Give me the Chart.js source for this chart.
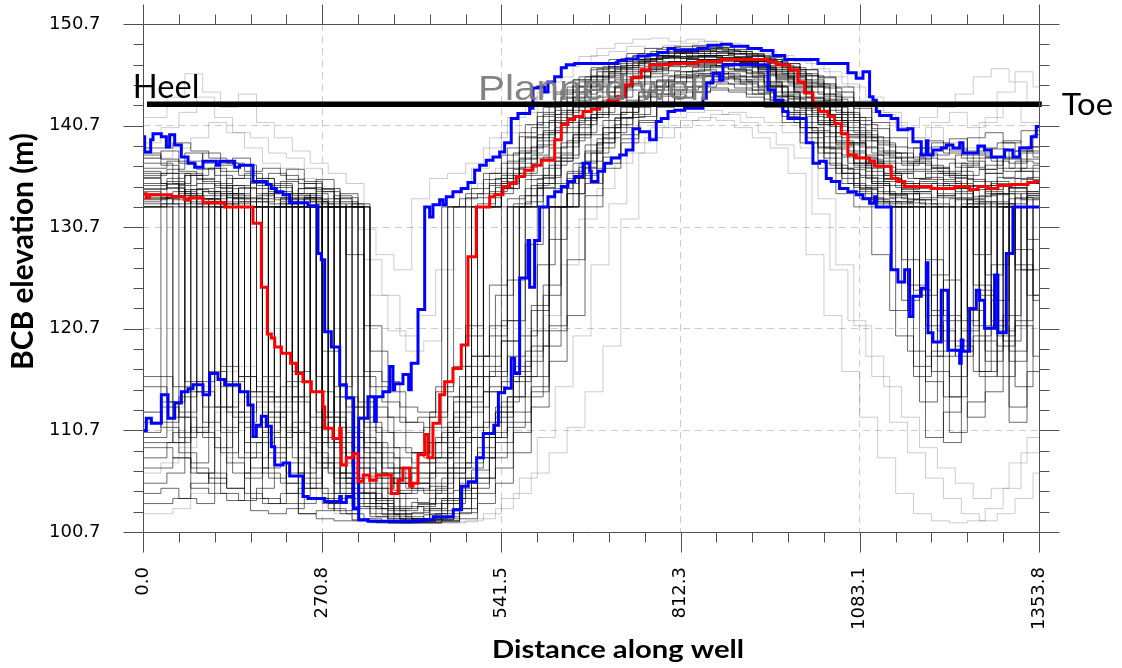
<!DOCTYPE html>
<html><head><meta charset="utf-8">
<script src="https://cdn.jsdelivr.net/npm/chart.js@4/dist/chart.umd.min.js"></script>
<style>html,body{margin:0;padding:0;background:#fff}#wrap{width:1122px;height:668px}</style>
</head><body><div id="wrap"><canvas id="c" width="1122" height="668"></canvas></div>
<script>
// ---------- tick labels ----------
const xTickValues = [0, 270.76, 541.52, 812.28, 1083.04, 1353.8];
const xTickLabels = ["0.0", "270.8", "541.5", "812.3", "1083.1", "1353.8"];
const yTickValues = [100.7, 110.7, 120.7, 130.7, 140.7, 150.7];
const yTickLabels = ["100.7", "110.7", "120.7", "130.7", "140.7", "150.7"];

// ---------- planned well ----------
const wellX = [6, 1358];
const wellY = [142.8, 142.8];

// ---------- median (red), step breakpoints ----------
const redX = [0,5,10,43,63,70.5,90.6,123.4,166.2,178.8,187.8,193.9,199,209,223,231.6,241.7,254.3,272,274.5,287,297.2,299.6,307.2,317.3,324.8,332.8,342.5,352.5,375.2,385.3,392.8,402.9,407.9,415.5,425.6,430.6,438.1,448.2,455.8,468.3,480.9,491,503.6,523.8,531.3,543.9,554,564,576.7,589.2,601.8,622,632,642,652.2,664.8,677.3,689.9,702.5,717.6,727.7,737.7,752.8,765.5,798.2,838.5,873.7,944.3,956.8,977,989.6,999.7,1012.2,1022.3,1034.9,1045,1055,1065.1,1077.6,1097.8,1105.4,1130.5,1140.6,1150.8,1191,1226.3,1249,1261.5,1276.6,1291.7,1311.9,1337.1,1347.2,1353.8];
const redY = [134.0,133.6,133.9,133.7,133.4,133.6,133.1,132.7,131.1,124.8,120.2,119.8,118.9,118.3,117.3,116.3,115.5,114.5,113.0,110.9,109.9,110.9,107.3,108.0,108.4,105.7,106.3,105.8,106.3,104.5,105.8,107.0,105.2,105.5,108.3,110.3,108.0,111.4,114.2,115.5,116.8,119.1,127.8,132.7,133.7,133.9,134.7,135.0,135.7,136.3,136.8,137.3,139.3,140.8,141.3,141.6,142.1,142.3,142.8,143.2,143.6,144.7,145.4,146.2,146.7,146.8,147.0,147.2,147.0,146.7,146.2,145.0,143.9,142.6,142.1,141.6,140.9,139.9,137.8,137.5,137.2,136.7,135.5,135.2,134.7,134.5,134.7,134.4,134.7,134.5,134.8,134.9,135.1,135.2,135.2];

// ---------- upper percentile (blue) ----------
const blueUpperX = [0,2.5,11.6,15.1,27.7,35.3,40.3,47.9,57.9,68,78.1,90.6,110.8,115.8,138.5,146.1,166.2,186.3,193.9,201.4,211.5,221.6,249.3,264.4,269.4,274.5,284.5,297.2,307.2,318.3,325.9,339.9,350,352.5,362.6,372.7,377.7,380.2,392.8,401.4,405.3,415.5,425.6,433.1,438.1,448.2,453.2,458.2,468.3,480.9,491,501.1,508.7,518.7,528.8,538.9,546.4,556.4,566.5,584.2,589.2,596.8,606.9,611.9,622,632,639.6,652.2,717.6,730.2,747.8,763,778,793.2,803.3,838.5,853.6,873.7,888.8,914,934.2,951.8,969.5,1019.8,1065.1,1077.6,1087.8,1097.8,1102.9,1107.9,1113,1130.5,1140.6,1155.7,1163.3,1175.9,1183.5,1186,1193.5,1206.1,1213.7,1223.8,1233.9,1238.9,1261.5,1271.6,1281.7,1301.8,1314.4,1324.5,1342.1,1349.7,1353.8];
const blueUpperY = [139.6,138.1,139.3,139.9,139.6,138.6,139.8,138.8,137.6,137.0,136.6,137.2,136.8,137.2,136.6,136.8,135.2,134.9,134.5,134.2,133.9,133.1,132.8,128.1,127.5,120.4,118.9,115.2,113.9,103.0,111.9,114.0,111.6,114.0,114.5,117.0,114.7,115.3,116.2,114.7,117.3,122.6,132.7,131.7,132.9,133.4,132.9,133.7,134.2,134.5,135.1,136.3,136.8,137.3,137.6,138.1,139.0,141.4,141.9,142.4,144.4,144.5,144.0,145.0,145.5,146.4,146.7,146.8,147.1,147.25,147.55,147.65,147.9,148.3,148.15,148.3,148.6,148.7,148.5,148.3,148.1,147.6,147.2,146.8,145.9,145.35,146.0,143.55,143.2,142.1,141.7,141.4,140.3,140.4,139.1,137.8,139.2,137.8,138.3,138.5,138.8,138.5,139.0,138.0,138.7,138.3,137.6,138.3,137.6,138.5,139.6,140.6,140.6];

// ---------- lower percentile (blue) ----------
const blueLowerX = [0,5,12.6,27.7,37.8,47.9,57.9,68,75.5,90.6,100.7,113.3,123.4,146.1,158.6,166.2,171.2,178.8,186.3,193.9,199,211.5,221.6,241.7,249.3,274.5,297.2,299.6,307.2,318.3,325.9,339.9,420.5,438.6,468.8,481.4,491.5,504.1,514.2,530,537,546.4,556.4,561.5,569.1,581.6,584.2,591.7,599.3,611.9,622,632,642,652.2,664.8,674.9,677.3,687.4,697.5,707.5,720.2,730.2,740.3,750.4,765.5,775.5,783.1,793.2,803.3,818.4,846.1,851.1,861.2,871.3,876.3,944.3,954.4,966.9,974.5,1002.1,1012.2,1022.3,1032.4,1039.9,1052.5,1065.1,1077.6,1087.8,1097.8,1105.4,1107.9,1130.5,1140.6,1150.8,1158.3,1163.3,1175.9,1183.5,1186,1193.5,1206.1,1216.2,1233.9,1236.3,1238.9,1249,1259.1,1264.1,1271.6,1286.7,1291.7,1304.4,1314.4,1353.8];
const blueLowerY = [110.7,111.9,111.4,114.2,111.9,113.4,114.5,114.8,115.2,114.2,116.3,115.7,115.2,114.5,113.2,110.1,111.2,112.1,111.1,109.1,107.3,107.5,106.2,104.2,104.0,103.7,104.2,103.6,104.2,103.0,101.9,101.75,101.9,102.2,102.9,105.2,105.65,108.0,110.4,111.2,114.4,114.85,117.8,116.3,125.7,129.4,124.8,129.4,132.7,133.7,134.2,134.7,135.2,135.7,137.0,136.2,135.2,136.2,137.0,137.5,137.8,138.3,140.4,140.1,139.3,141.1,141.4,142.1,142.2,142.4,143.4,144.9,145.85,145.2,146.7,144.2,143.2,142.1,141.4,139.0,137.0,137.2,135.5,135.2,134.5,134.2,133.9,133.5,133.05,133.7,132.7,126.5,125.3,126.5,121.9,123.9,124.7,127.2,120.3,119.4,124.5,118.6,117.3,119.6,118.5,122.7,124.5,123.5,120.75,126.0,120.3,128.1,132.7,132.7];

// ---------- ensemble realizations (gray): three staggered cell grids along the well ----------
const distanceGridA = [0,27.1,54.2,81.2,108.3,135.4,162.5,189.5,216.6,243.7,270.8,297.8,324.9,352,379.1,406.1,433.2,460.3,487.4,514.4,541.5,568.6,595.7,622.7,649.8,676.9,704,731,758.1,785.2,812.3,839.3,866.4,893.5,920.6,947.6,974.7,1001.8,1028.9,1055.9,1083.0,1110.1,1137.2,1164.2,1191.3,1218.4,1245.5,1272.5,1299.6,1326.7,1353.8];
const distanceGridB = [0,36.1,63.2,90.2,117.3,144.4,171.5,198.5,225.6,252.7,279.8,306.8,333.9,361.0,388.1,415.1,442.2,469.3,496.4,523.4,550.5,577.6,604.7,631.7,658.8,685.9,713.0,740.1,767.1,794.2,821.3,848.4,875.4,902.5,929.6,956.7,983.7,1010.8,1037.9,1065.0,1092.0,1119.1,1146.2,1173.3,1200.3,1227.4,1254.5,1281.6,1308.6,1335.7,1353.8];
const distanceGridC = [0,45.1,72.2,99.3,126.4,153.4,180.5,207.6,234.7,261.7,288.8,315.9,343.0,370.0,397.1,424.2,451.3,478.3,505.4,532.5,559.6,586.6,613.7,640.8,667.9,694.9,722.0,749.1,776.2,803.2,830.3,857.4,884.5,911.6,938.6,965.7,992.8,1019.9,1046.9,1074.0,1101.1,1128.2,1155.2,1182.3,1209.4,1236.5,1263.5,1290.6,1317.7,1344.8,1353.8];

const dark01 = [134.0,133.8,133.6,133.5,133.2,132.7,132.7,132.7,132.7,132.7,118.5,116.0,112.0,108.5,106.0,105.5,104.8,106.5,114.0,132.7,134.5,136.0,137.5,140.5,142.5,143.5,145.0,146.0,146.5,146.8,147.0,147.2,147.1,147.0,146.6,146.0,145.0,143.5,141.5,139.5,137.5,136.6,135.2,134.7,134.6,134.5,134.7,134.4,134.8,135.0];
const dark02 = [136.5,137.2,138.0,137.0,136.2,136.8,135.5,134.6,134.0,133.2,132.7,128.0,121.0,115.5,113.0,112.5,114.5,117.0,132.7,134.8,137.2,139.5,141.8,143.5,145.0,146.0,147.0,147.6,148.0,148.2,148.0,147.6,147.4,147.0,146.5,146.0,145.2,144.5,142.5,140.5,138.5,137.5,136.8,137.5,136.2,137.8,138.0,137.2,136.5,138.6];
const dark03 = [133.5,112.0,110.5,133.2,134.0,108.5,107.0,133.0,103.5,104.0,102.8,103.0,102.2,101.8,101.7,101.8,102.0,104.5,108.0,112.5,116.0,123.0,132.7,136.0,138.2,140.5,142.0,143.5,144.5,145.0,145.6,145.8,146.0,145.5,144.8,143.8,142.8,141.0,139.2,137.0,135.0,133.8,132.7,118.0,121.5,132.7,124.0,120.5,132.7,133.5];
const dark04 = [135.5,135.0,134.2,114.5,113.0,134.8,135.0,112.0,110.5,133.6,108.0,107.5,106.0,104.0,102.5,102.0,103.0,108.0,112.5,118.0,132.7,133.8,135.5,138.0,140.5,142.5,144.0,145.5,146.2,146.8,147.3,147.5,147.3,146.8,146.0,144.5,143.0,140.5,138.5,136.0,134.5,133.5,133.2,134.0,122.5,116.0,133.5,134.2,119.5,132.7];
const dark05 = [108.0,109.5,135.8,136.5,111.0,112.5,133.5,134.0,132.7,110.0,109.0,106.0,104.5,103.0,102.0,101.8,101.9,102.5,105.0,110.5,114.0,118.5,125.0,132.7,136.0,139.0,141.5,143.0,144.5,145.5,146.0,146.6,146.8,146.5,145.8,145.0,144.0,142.0,140.0,138.0,136.5,135.5,135.0,134.5,133.8,135.5,125.0,121.5,134.6,135.2];
const dark06 = [137.0,136.0,106.5,105.5,135.5,136.0,114.0,115.0,134.5,112.5,114.0,113.0,109.5,107.0,105.0,104.5,106.0,110.0,116.0,124.0,133.0,135.8,138.5,141.0,143.0,144.5,145.8,146.8,147.5,148.0,148.5,148.3,148.0,147.7,147.2,146.5,145.8,144.8,143.5,141.5,139.5,138.0,137.0,136.2,135.8,136.8,137.5,136.5,137.2,137.0];
const dark07 = [112.5,111.0,110.0,134.5,133.8,132.7,104.0,103.5,133.0,132.7,107.0,104.5,103.5,102.2,101.8,102.0,103.5,106.5,110.0,114.5,119.5,132.7,134.5,137.2,139.5,141.5,143.0,144.2,145.0,145.6,146.0,146.2,145.8,145.2,144.5,143.5,142.0,140.0,137.5,135.5,134.0,133.0,132.7,124.5,126.0,132.7,133.0,117.5,122.0,132.7];
const dark08 = [134.8,135.5,136.0,135.2,134.5,108.0,109.5,110.0,111.5,108.5,106.5,132.7,111.0,108.0,106.5,107.5,108.0,112.0,132.7,135.0,136.5,138.5,140.0,142.0,143.8,145.0,146.2,147.0,147.6,147.8,147.5,147.2,146.8,146.4,145.6,144.6,143.5,142.2,140.8,139.0,137.2,136.0,134.5,135.0,134.0,119.0,116.5,127.0,133.5,134.2];
const dark09 = [116.0,115.0,114.5,116.5,115.5,114.0,112.5,111.0,109.0,107.5,105.5,104.0,103.0,102.0,101.7,101.7,101.8,103.0,106.0,108.5,111.5,114.5,132.7,134.0,136.5,139.5,141.5,142.8,143.8,144.5,145.0,145.2,145.5,145.0,144.0,142.5,140.5,138.5,136.5,134.8,133.4,132.7,125.0,121.0,119.5,132.7,133.0,134.0,127.0,123.5];
const dark10 = [133.2,133.5,134.0,133.8,133.0,132.7,132.7,132.7,105.5,106.0,132.7,105.0,104.0,103.5,104.5,105.5,107.5,111.5,120.0,132.7,135.5,137.5,139.2,141.8,144.0,145.5,146.5,147.2,147.6,147.9,148.0,147.8,147.6,147.4,147.0,146.2,145.5,144.5,143.0,141.0,139.5,138.2,137.5,138.5,139.0,138.2,139.5,140.0,139.0,140.2];
const dark11 = [110.0,132.7,133.5,134.2,110.5,111.5,113.5,132.7,133.5,134.0,110.0,108.0,105.5,104.0,103.0,103.2,105.5,109.5,113.0,116.5,121.5,129.0,132.7,135.0,137.0,139.0,140.5,141.8,143.0,143.8,144.5,145.0,145.3,145.0,144.4,143.6,142.5,141.0,139.0,137.0,135.5,134.0,133.5,133.0,132.7,118.5,120.0,132.7,133.0,133.8];
const dark12 = [138.5,139.0,138.2,137.5,137.0,136.2,136.5,135.8,135.0,134.2,133.5,132.7,115.0,112.0,110.5,111.0,132.7,133.5,134.0,135.5,138.0,140.5,142.8,144.5,145.5,146.5,147.3,147.8,148.2,148.5,148.6,148.4,148.2,147.8,147.4,146.8,146.2,145.5,144.5,143.0,141.0,139.5,138.5,139.2,138.0,137.5,138.5,139.0,138.2,139.8];
const dark13 = [104.5,105.0,104.0,103.5,132.7,133.5,102.8,102.5,103.0,132.7,103.5,102.5,101.8,101.6,101.6,101.7,102.0,103.5,107.5,111.5,115.5,120.0,127.0,132.7,135.5,138.0,140.0,141.5,142.8,143.6,144.2,144.5,144.8,144.4,143.8,142.8,141.5,139.5,137.0,135.0,133.5,132.7,120.0,117.0,132.7,133.5,112.0,114.5,132.7,132.7];
const dark14 = [135.0,134.5,133.8,133.5,134.0,116.0,114.5,113.5,114.0,132.7,112.0,110.0,108.0,106.5,107.0,108.5,110.0,114.0,118.0,121.0,132.7,134.5,136.5,139.0,141.2,143.0,144.5,145.5,146.3,146.9,147.2,147.4,147.2,146.9,146.3,145.5,144.5,143.0,141.2,139.0,137.0,135.5,134.0,133.6,134.8,134.2,133.7,135.0,134.5,134.0];
const dark15 = [109.0,108.0,107.0,106.0,105.0,104.5,104.0,103.5,102.5,102.0,101.8,101.8,101.7,101.6,101.6,101.6,101.7,102.0,103.5,105.5,108.5,113.0,117.5,122.0,132.7,136.5,139.0,141.0,142.5,143.5,144.0,144.2,144.0,143.5,142.5,141.0,139.0,136.5,134.0,132.7,128.0,122.5,132.7,127.5,122.0,120.5,124.5,133.0,128.5,124.0];
const dark16 = [132.7,133.0,132.7,132.7,135.0,135.5,133.5,133.0,132.7,133.5,134.5,114.0,107.0,105.0,106.0,108.5,112.5,132.7,134.0,136.0,137.8,140.0,142.0,144.0,145.2,146.2,146.8,147.2,147.3,147.0,146.7,146.5,146.8,147.0,147.1,146.8,146.2,145.2,143.8,142.0,140.2,138.8,136.0,135.5,136.5,135.8,134.8,136.0,135.5,136.5];
const dark17 = [132.7,133.8,115.5,113.0,132.7,133.2,134.5,109.0,132.7,111.0,132.7,110.5,108.5,106.5,104.0,103.5,105.0,107.5,111.0,115.0,118.0,132.7,135.0,137.5,140.0,142.0,143.5,144.8,145.8,146.5,147.0,147.2,147.0,146.7,146.0,145.2,144.2,142.8,141.0,138.8,136.8,135.2,134.2,113.5,133.8,134.5,128.0,133.2,111.5,133.6];
const dark18 = [136.0,135.0,135.8,136.5,107.5,106.0,134.0,135.2,106.5,133.0,104.5,132.7,104.0,102.8,102.5,103.0,104.0,106.0,109.0,112.0,132.7,134.8,136.8,139.2,141.5,143.2,144.8,146.0,146.9,147.4,147.8,148.0,147.7,147.2,146.6,145.8,144.9,143.8,142.0,140.0,138.0,136.2,135.5,136.0,135.2,121.5,134.8,135.6,136.2,135.0];
const dark19 = [111.5,113.5,112.0,110.5,109.0,133.0,132.7,108.0,106.5,105.5,133.5,106.5,105.0,103.5,102.2,102.0,102.5,104.0,107.0,110.0,113.5,116.0,132.7,134.5,137.0,139.8,141.8,143.2,144.2,145.0,145.5,145.8,145.5,145.0,144.2,143.2,141.8,140.0,138.0,136.0,134.4,133.2,132.7,133.4,116.5,114.0,132.7,118.5,132.7,126.5];
const dark20 = [134.5,135.2,134.0,133.5,133.0,134.5,135.5,134.8,133.8,133.2,132.7,132.7,109.0,105.5,104.5,106.0,109.5,113.5,132.7,134.2,136.0,138.0,140.2,142.8,144.5,145.5,146.3,146.9,147.3,147.5,147.6,147.5,147.3,147.0,146.4,145.6,144.6,143.2,141.5,139.8,137.8,136.0,134.8,135.4,136.0,135.0,134.4,135.2,134.2,135.6];
const dark21 = [132.7,109.5,111.0,132.7,133.6,114.5,116.0,133.2,134.0,114.5,112.5,109.0,106.5,104.5,103.2,102.8,103.5,106.0,110.0,113.0,116.5,120.5,132.7,135.5,138.0,140.5,142.5,144.0,145.2,146.0,146.4,146.6,146.3,145.8,145.0,144.0,142.6,140.8,138.8,136.8,135.0,134.0,133.4,132.7,109.5,133.0,133.8,132.7,115.0,132.7];
const dark22 = [137.5,138.2,137.0,136.4,135.8,112.0,110.0,136.0,135.4,134.6,109.5,133.2,110.0,107.5,105.5,105.0,106.5,109.0,115.0,132.7,135.0,137.0,139.5,141.5,143.5,144.8,145.8,146.6,147.2,147.6,147.9,148.1,147.9,147.5,147.0,146.2,145.4,144.0,142.2,140.2,138.6,137.0,136.4,137.2,136.5,137.0,122.5,136.8,137.5,136.2];
const dark23 = [105.5,106.5,133.5,134.2,104.5,103.8,105.0,132.7,133.4,104.0,103.0,102.5,102.0,101.7,101.6,101.7,101.9,103.0,105.5,108.0,111.0,114.0,119.0,132.7,135.8,138.5,140.8,142.5,143.8,144.8,145.4,145.6,145.4,144.8,143.9,142.6,141.0,139.0,136.8,135.0,133.6,132.7,123.5,132.7,120.5,118.0,132.7,134.0,113.0,116.5];
const dark24 = [133.8,134.2,133.0,132.7,112.5,111.0,132.7,133.5,132.7,116.0,115.0,133.0,113.0,110.5,108.5,108.0,110.5,115.0,132.7,134.0,135.8,137.8,140.0,142.2,144.2,145.4,146.4,147.1,147.6,147.9,148.2,148.0,147.8,147.5,147.0,146.4,145.6,144.6,143.0,141.2,139.2,137.6,136.2,135.6,134.8,135.8,136.4,120.0,135.5,136.8];
const dark25 = [110.5,111.5,114.0,115.5,134.2,133.5,111.0,112.5,114.0,133.8,107.5,106.0,104.5,103.0,102.4,102.6,104.0,107.0,111.0,114.5,119.5,132.7,135.0,137.5,139.8,141.8,143.4,144.6,145.5,146.1,146.5,146.7,146.5,146.1,145.4,144.5,143.3,141.8,140.0,137.8,135.8,134.2,133.0,116.0,118.5,132.7,133.4,126.0,132.7,134.0];
const dark26 = [135.8,136.4,137.2,138.0,137.0,135.8,134.8,133.6,108.0,107.0,133.0,132.7,116.5,113.5,111.5,112.0,115.0,132.7,134.5,136.0,138.5,140.8,142.5,144.2,145.5,146.3,147.0,147.5,147.8,148.0,148.2,148.3,148.1,147.8,147.3,146.6,145.8,144.8,143.3,141.5,139.6,138.0,137.2,138.0,137.4,136.6,137.8,138.4,137.0,138.2];
const dark27 = [133.0,133.4,105.0,104.5,103.8,132.7,103.5,104.5,105.0,132.7,104.0,103.2,102.5,102.0,101.8,101.9,102.2,104.0,106.0,109.5,112.5,116.0,121.0,132.7,135.0,137.6,139.8,141.6,143.0,144.0,144.6,145.0,144.8,144.2,143.3,142.0,140.5,138.6,136.5,134.6,133.2,132.7,132.7,110.0,112.5,132.7,133.2,119.0,121.5,132.7];
const dark28 = [134.2,133.6,134.8,135.5,134.8,133.8,133.2,132.7,134.0,135.0,112.0,108.5,107.5,106.0,105.5,106.5,108.0,111.0,117.0,132.7,134.5,136.6,138.8,141.0,143.2,144.6,145.6,146.4,147.0,147.3,147.5,147.6,147.4,147.1,146.5,145.7,144.8,143.4,141.8,139.8,137.6,135.8,134.6,134.2,135.0,134.6,135.4,134.0,134.8,135.4];
const dark29 = [133.4,134.6,133.2,110.0,108.5,132.7,133.8,135.0,113.5,112.0,132.7,133.0,111.5,109.0,107.0,106.5,108.5,112.5,118.0,125.0,133.5,135.4,137.6,140.0,142.6,144.0,145.2,146.2,146.8,147.0,146.6,146.9,147.3,146.9,146.2,145.3,144.0,142.5,140.6,138.2,136.2,134.8,134.0,133.4,118.0,133.6,134.8,133.9,134.6,124.0];
const dark30 = [107.0,108.0,107.5,133.0,134.0,133.6,106.5,105.5,134.5,135.4,106.0,104.5,103.5,102.5,102.0,102.4,103.8,105.5,108.5,111.5,115.5,119.0,132.7,136.2,138.8,141.2,142.8,144.0,145.1,145.7,146.1,146.4,146.2,145.9,145.0,144.0,142.8,141.2,139.0,137.0,135.2,133.9,133.1,132.7,135.0,119.5,116.0,132.7,133.6,132.7];
const dark31 = [137.8,136.8,136.2,135.4,136.8,137.5,107.0,108.5,136.4,135.2,134.2,111.0,108.0,106.0,104.8,104.8,106.5,110.5,121.0,132.7,135.8,138.2,141.0,143.0,144.6,145.6,146.4,147.2,147.6,147.4,147.8,148.2,148.4,148.0,147.5,146.9,146.0,145.0,143.6,141.8,139.8,137.8,137.0,136.4,137.8,138.4,137.2,136.0,137.4,138.0];
const dark32 = [115.0,113.5,132.7,133.2,117.0,116.0,115.0,132.7,110.5,109.5,111.5,105.5,103.2,102.4,101.9,101.9,102.5,104.8,106.8,110.0,114.0,117.5,124.0,132.7,136.6,139.4,141.4,143.0,144.2,145.0,145.6,145.5,145.8,145.5,144.6,143.6,142.2,140.2,138.4,136.4,134.6,133.2,127.5,124.0,132.7,133.4,121.0,123.5,132.7,129.5];
const dark33 = [133.6,133.0,134.4,134.0,133.6,132.7,111.5,132.7,133.6,132.7,133.8,132.7,118.5,114.5,111.5,109.5,111.0,116.0,133.0,134.6,136.4,138.6,141.2,143.4,145.0,146.0,146.6,147.0,147.4,147.8,148.0,147.6,147.8,147.6,147.2,146.8,146.2,145.4,144.0,142.4,140.4,138.6,137.6,136.8,136.0,137.0,136.4,137.6,138.2,137.6];
const dark34 = [136.2,113.0,112.5,135.0,134.6,106.5,108.0,134.2,104.5,133.6,104.5,106.5,104.6,103.8,103.0,103.6,105.2,108.5,113.5,117.0,121.5,132.7,134.6,137.2,139.8,141.8,143.6,145.0,146.0,146.6,146.9,146.8,146.6,146.2,145.6,144.6,143.4,141.6,139.6,137.6,135.6,134.0,133.2,134.2,133.0,110.5,113.5,132.7,134.0,133.4];
const dark35 = [134.4,134.9,135.8,111.5,113.0,134.6,134.0,133.4,132.7,105.0,103.5,132.7,106.2,104.0,102.8,103.4,104.5,107.0,110.0,116.0,132.7,133.8,135.6,137.8,140.8,142.8,144.4,145.4,146.2,146.8,147.2,147.0,147.2,146.8,146.4,145.8,144.8,143.4,141.8,139.6,137.4,135.8,135.0,134.6,135.4,136.2,135.2,134.8,117.5,134.2];
const dark36 = [109.5,110.5,132.7,133.5,134.8,109.5,110.5,112.5,132.7,134.4,109.5,107.0,105.0,103.2,102.2,102.0,102.8,105.0,108.0,112.5,117.0,122.5,129.5,134.0,137.2,140.0,142.0,143.6,144.6,145.4,145.8,146.0,145.6,145.2,144.6,143.6,142.4,140.8,138.6,136.6,134.8,133.6,132.7,122.0,125.5,132.7,116.5,133.0,126.5,132.7];
const dark37 = [138.0,137.4,108.5,106.5,132.7,134.0,135.2,106.0,107.5,105.0,132.7,134.0,113.5,110.5,108.0,107.5,109.5,114.0,132.7,133.6,135.2,137.4,139.8,142.2,144.0,145.2,146.0,146.8,147.2,147.5,147.3,147.6,147.8,147.4,147.0,146.4,145.6,144.6,143.2,141.2,139.2,137.2,136.0,137.0,136.6,135.6,136.6,137.6,136.2,137.4];
const dark38 = [132.7,133.6,134.4,133.4,115.0,114.5,133.2,134.2,116.5,133.4,132.7,113.0,109.5,107.0,105.5,105.5,107.0,110.5,116.0,120.0,125.5,133.2,135.8,138.6,141.4,143.0,144.6,145.6,146.4,147.0,147.4,147.6,147.2,146.8,146.2,145.4,144.4,143.0,141.2,139.0,137.0,135.4,134.4,135.2,133.6,134.0,133.2,121.0,118.5,133.8];
const dark39 = [103.5,104.0,105.5,106.5,105.0,106.5,132.7,133.6,102.5,102.8,132.7,101.9,101.7,101.6,101.6,101.6,101.8,102.6,104.5,107.0,110.5,115.0,120.5,127.5,133.8,137.0,139.4,141.2,142.6,143.4,144.0,144.4,144.2,143.8,142.8,141.6,140.0,138.0,136.0,134.2,132.7,132.7,118.5,115.5,114.0,132.7,119.5,116.0,121.0,118.0];
const dark40 = [135.6,136.0,133.8,133.0,132.7,133.2,132.7,114.0,115.5,132.7,133.2,133.6,116.0,112.0,109.0,108.5,112.0,132.7,133.6,135.4,137.0,139.6,141.6,143.8,145.2,146.4,147.2,147.8,148.3,148.4,148.3,148.0,148.2,148.0,147.6,147.0,146.4,145.6,144.4,142.8,140.8,139.0,138.0,137.4,138.6,139.4,138.2,137.6,139.2,138.6];

const light01 = [141.5,143.5,145.8,144.0,142.5,143.8,141.0,139.5,138.2,137.0,136.0,135.0,127.5,124.0,120.0,122.0,126.5,132.7,136.5,139.5,141.5,143.5,145.0,146.5,147.5,148.3,148.8,149.2,149.3,149.0,149.2,149.0,148.8,148.4,148.0,147.6,147.0,146.3,145.5,144.5,143.5,142.0,140.5,141.5,142.5,143.8,145.5,146.3,145.0,143.0];
const light02 = [102.5,103.0,104.5,106.0,108.0,109.5,110.5,109.0,106.5,104.0,102.5,101.8,101.6,101.6,101.6,101.6,101.6,101.7,102.0,103.0,104.5,106.5,108.5,111.0,114.5,119.0,131.5,138.0,139.5,140.5,141.2,141.8,142.0,141.5,141.0,140.0,138.5,133.5,127.0,121.0,116.0,111.5,108.5,106.0,104.0,102.5,101.8,102.5,104.0,106.5];
const light03 = [139.0,140.5,142.0,143.5,141.5,140.0,139.5,138.0,137.5,136.5,134.5,133.2,130.5,128.0,126.5,133.5,135.5,136.0,137.0,138.5,140.0,142.0,144.0,145.5,146.8,147.6,148.0,148.5,148.3,148.6,148.8,149.0,148.6,148.2,147.8,147.5,147.2,146.8,146.0,144.8,143.2,141.8,140.5,139.5,141.0,142.0,140.5,141.5,143.0,141.0];
const light04 = [112.5,113.0,114.5,115.0,116.5,117.0,115.5,113.0,110.5,108.0,106.5,105.0,103.5,102.5,102.0,102.0,102.5,104.0,106.5,110.0,114.0,118.0,122.0,127.0,131.5,134.5,137.0,139.0,140.5,141.5,142.0,142.2,141.8,141.0,140.0,138.8,137.5,132.0,126.5,121.5,118.0,115.0,112.0,109.0,107.0,105.5,104.0,105.0,107.5,110.0];
const light05 = [137.5,138.5,139.5,141.0,140.0,138.5,137.0,136.5,135.5,134.5,133.5,132.7,124.0,120.5,118.5,119.5,132.7,134.5,135.0,136.5,138.0,139.5,141.0,143.0,144.5,145.8,146.6,147.3,147.8,148.2,148.0,147.8,147.5,147.2,146.8,146.2,145.6,144.8,144.0,143.0,142.0,141.0,139.5,140.5,139.0,138.5,141.0,144.0,146.0,144.5];
const light06 = [106.5,107.5,109.0,111.0,112.5,113.5,113.0,111.5,109.5,107.5,105.0,103.5,102.0,101.7,101.6,101.6,101.6,101.6,101.8,102.5,104.0,106.0,110.0,115.0,120.0,127.0,133.0,138.0,139.5,140.5,141.2,141.5,141.2,140.5,139.5,138.5,136.0,128.0,122.0,116.5,112.0,108.0,104.5,102.5,101.8,101.6,101.8,103.0,105.0,108.5];

const darkRealizations = [dark01,dark02,dark03,dark04,dark05,dark06,dark07,dark08,dark09,dark10,dark11,dark12,dark13,dark14,dark15,dark16,dark17,dark18,dark19,dark20,dark21,dark22,dark23,dark24,dark25,dark26,dark27,dark28,dark29,dark30,dark31,dark32,dark33,dark34,dark35,dark36,dark37,dark38,dark39,dark40];
const lightRealizations = [light01,light02,light03,light04,light05,light06];
const cellGrids = [distanceGridA, distanceGridB, distanceGridC];

// ---------- build datasets ----------
function pairPoints(xs, ys) { return xs.map((x, i) => ({ x: x, y: ys[i] })); }
function cellPoints(vals, grid) {
  const pts = vals.map((v, i) => ({ x: grid[i], y: v }));
  pts.push({ x: grid[vals.length], y: vals[vals.length - 1] });
  return pts;
}

const datasets = [];
datasets.push({ label: 'Planned well', data: pairPoints(wellX, wellY), borderColor: '#000000', borderWidth: 5.5, stepped: false, order: 0, clip: false });
datasets.push({ label: 'Median', data: pairPoints(redX, redY), borderColor: '#ff0000', borderWidth: 3, stepped: true, order: 1 });
datasets.push({ label: 'Upper', data: pairPoints(blueUpperX, blueUpperY), borderColor: '#0000ff', borderWidth: 3, stepped: true, order: 2 });
datasets.push({ label: 'Lower', data: pairPoints(blueLowerX, blueLowerY), borderColor: '#0000ff', borderWidth: 3, stepped: true, order: 2 });
darkRealizations.forEach((r, i) => datasets.push({ label: 'R' + (i + 1), data: cellPoints(r, cellGrids[i % 3]), borderColor: 'rgba(0,0,0,0.58)', borderWidth: 1, stepped: true, order: 4 }));
lightRealizations.forEach((r, i) => datasets.push({ label: 'L' + (i + 1), data: cellPoints(r, cellGrids[(i + 1) % 3]), borderColor: 'rgba(0,0,0,0.2)', borderWidth: 1, stepped: true, order: 5 }));

// ---------- frame, minor ticks, annotations ----------
function fitText(ctx, text, x, y, font, color, width, rot) {
  ctx.save();
  ctx.font = font; ctx.fillStyle = color;
  ctx.textAlign = 'left'; ctx.textBaseline = 'alphabetic';
  const m = ctx.measureText(text).width;
  ctx.translate(x, y);
  if (rot) ctx.rotate(rot);
  ctx.scale(width / m, 1);
  ctx.fillText(text, 0, 0);
  ctx.restore();
}

const framePlugin = {
  id: 'frame',
  afterDraw(chart) {
    const ctx = chart.ctx, a = chart.chartArea, xs = chart.scales.x, ys = chart.scales.y;
    ctx.save();
    ctx.strokeStyle = '#505050'; ctx.lineWidth = 1;
    const L = Math.round(a.left) + 0.5, R = Math.round(a.right) + 0.5, T = Math.round(a.top) + 0.5, B = Math.round(a.bottom) + 0.5;
    ctx.beginPath();
    ctx.rect(L, T, R - L, B - T);
    const xStep = (xTickValues[1] - xTickValues[0]) / 5;
    for (let i = 0; i <= 25; i++) {
      const p = Math.round(xs.getPixelForValue(xTickValues[0] + i * xStep)) + 0.5;
      const len = (i % 5 === 0) ? 20 : 10;
      ctx.moveTo(p, B); ctx.lineTo(p, B + len);
      ctx.moveTo(p, T); ctx.lineTo(p, T - len);
    }
    const yStep = (yTickValues[1] - yTickValues[0]) / 5;
    for (let i = 0; i <= 25; i++) {
      const p = Math.round(ys.getPixelForValue(yTickValues[0] + i * yStep)) + 0.5;
      const len = (i % 5 === 0) ? 20 : 10;
      ctx.moveTo(L, p); ctx.lineTo(L - len, p);
      ctx.moveTo(R, p); ctx.lineTo(R + len, p);
    }
    ctx.stroke();
    ctx.restore();

    fitText(ctx, 'Heel', 132.7, 98.3, '32px Lato', '#000000', 66.7);
    fitText(ctx, 'Toe', 1061.7, 115, '30px Lato', '#000000', 51.3);
    fitText(ctx, 'Planned well', 478, 100, '35px "Liberation Sans"', 'rgba(120,120,120,0.92)', 230);
    fitText(ctx, 'Distance along well', 492, 658, 'bold 25.5px Lato', '#000000', 252);
    fitText(ctx, 'BCB elevation (m)', 33.3, 370, 'bold 30px Lato', '#000000', 237, -Math.PI / 2);
  }
};

new Chart(document.getElementById('c'), {
  type: 'line',
  data: { datasets: datasets },
  options: {
    responsive: false, animation: false, devicePixelRatio: 1,
    layout: { padding: { left: 49, top: 24, right: 83, bottom: 0 } },
    elements: { point: { radius: 0, hoverRadius: 0 }, line: { tension: 0, fill: false } },
    plugins: { legend: { display: false }, tooltip: { enabled: false }, title: { display: false } },
    events: [],
    scales: {
      x: {
        type: 'linear', position: 'bottom', min: 0, max: 1353.8,
        afterBuildTicks: s => { s.ticks = xTickValues.map(v => ({ value: v })); },
        afterFit: s => { s.height = 136; },
        ticks: { autoSkip: false, minRotation: 90, maxRotation: 90, padding: 35, color: '#000', font: { family: 'DejaVu Sans', size: 18 }, callback: (v, i) => xTickLabels[i] },
        grid: { drawTicks: false, lineWidth: 1, color: c => (c.index === 0 || c.index === xTickValues.length - 1) ? 'rgba(0,0,0,0)' : 'rgba(0,0,0,0.2)' },
        border: { display: false, dash: [7, 5] }
      },
      y: {
        type: 'linear', position: 'left', min: 100.7, max: 150.7,
        afterBuildTicks: s => { s.ticks = yTickValues.map(v => ({ value: v })); },
        afterFit: s => { s.width = 94; },
        ticks: { padding: 0, crossAlign: 'far', color: '#000', font: { family: 'DejaVu Sans', size: 18 }, callback: (v, i) => yTickLabels[i] },
        grid: { drawTicks: false, lineWidth: 1, color: c => (c.index === 0 || c.index === yTickValues.length - 1) ? 'rgba(0,0,0,0)' : 'rgba(0,0,0,0.2)' },
        border: { display: false, dash: [7, 5] }
      }
    }
  },
  plugins: [framePlugin]
});
</script>
</body></html>
